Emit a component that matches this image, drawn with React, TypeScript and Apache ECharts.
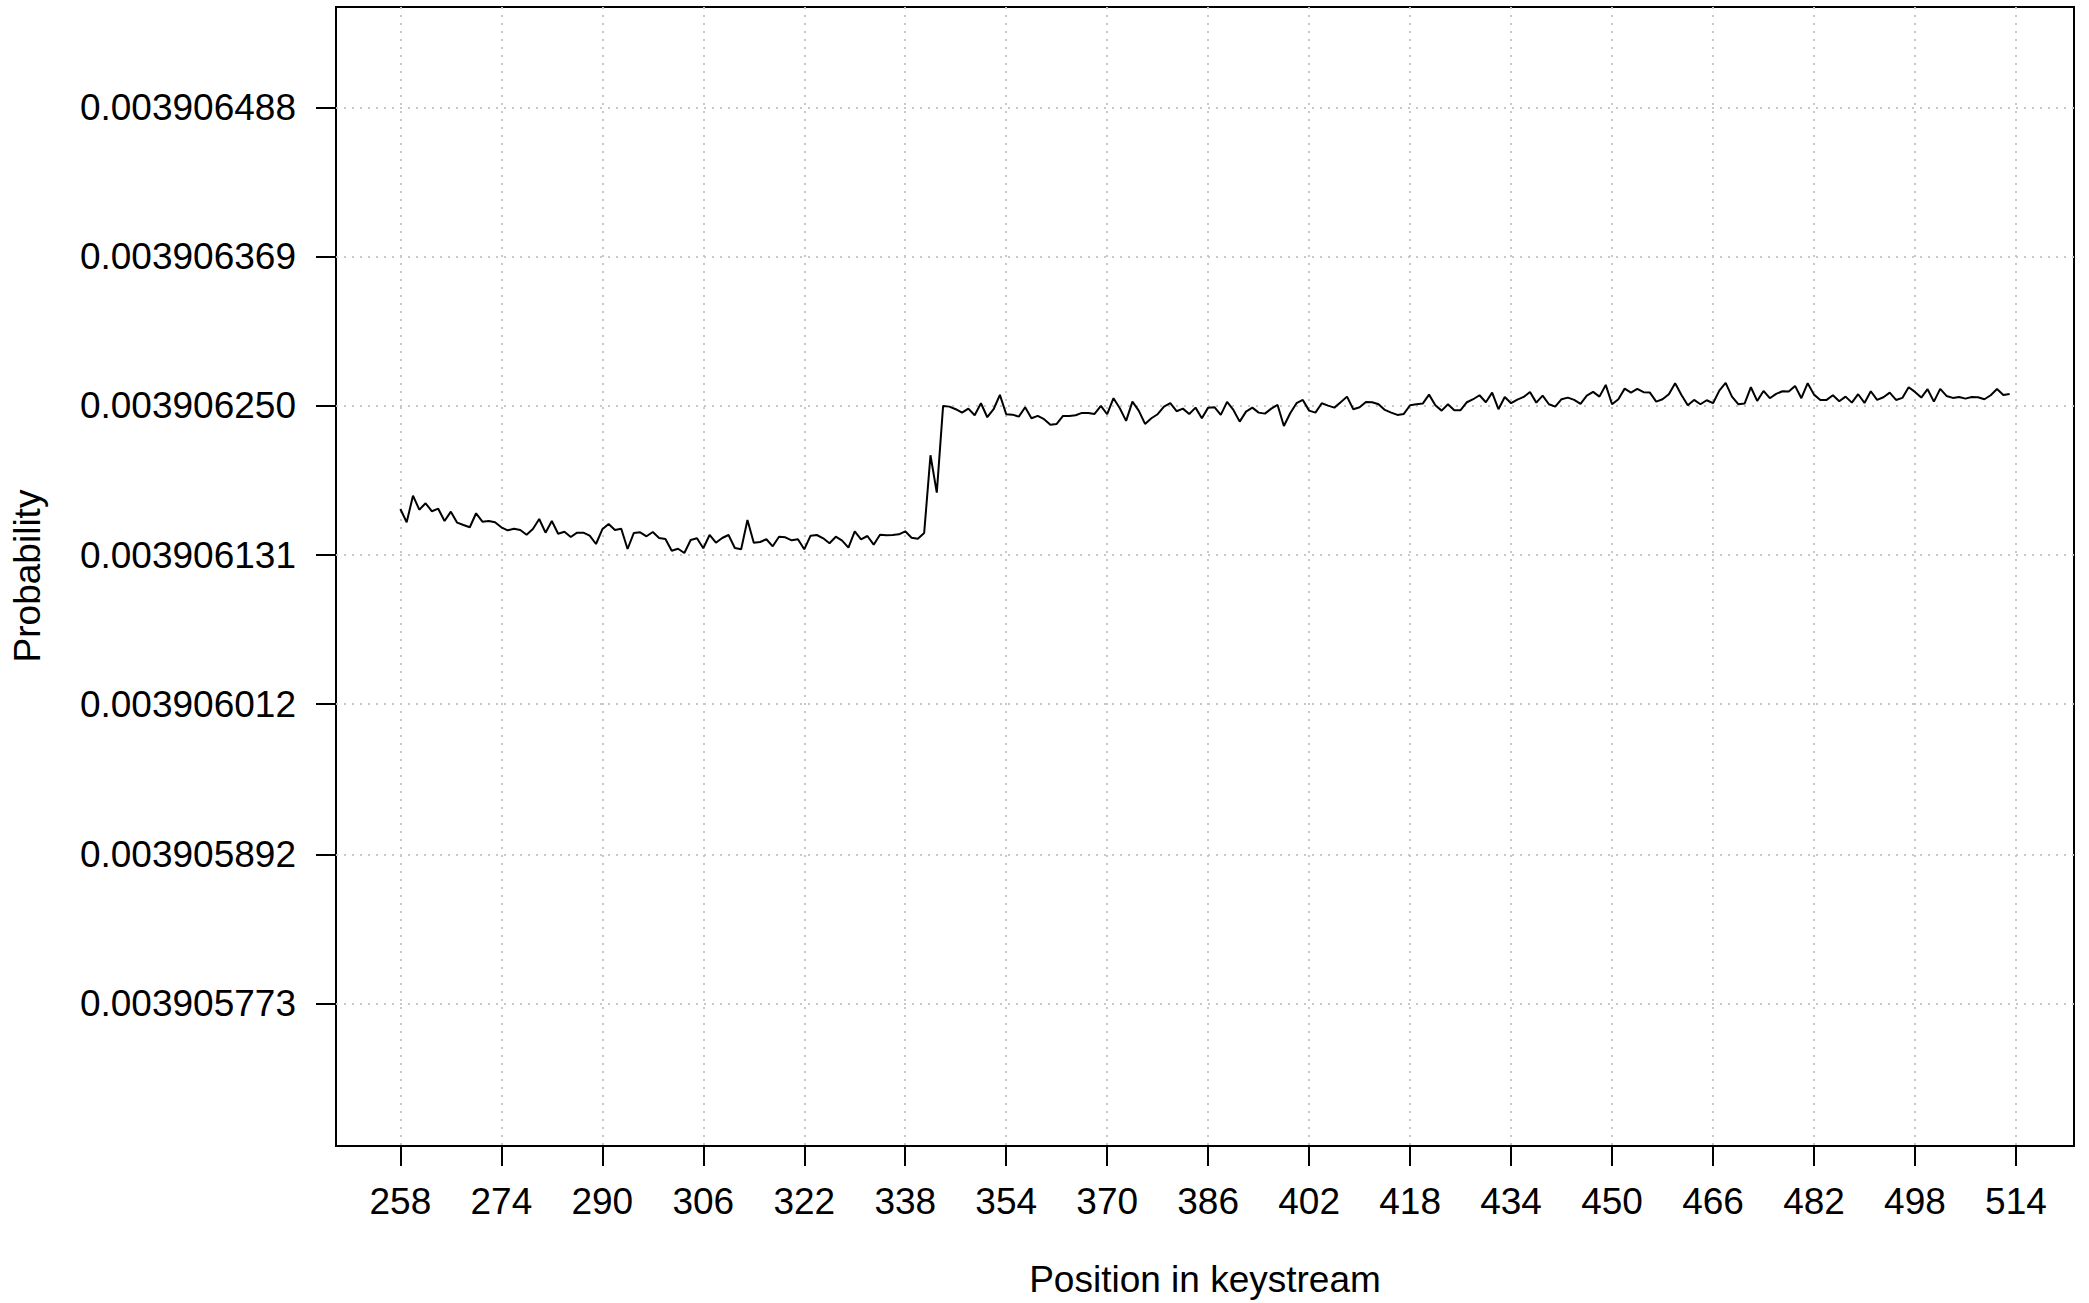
import React, { useEffect, useRef } from "react";
import * as echarts from "echarts";

// Position in keystream of the first value; one value per position.
const firstPosition = 258;

const probability = [
  0.00390616778, 0.00390615716, 0.00390617839, 0.00390616722, 0.00390617232, 0.00390616594, 0.00390616802, 0.0039061582, 0.00390616562, 0.00390615684,
  0.003906155, 0.00390615317, 0.00390616434, 0.00390615764, 0.0039061582, 0.00390615716, 0.00390615317, 0.00390615077, 0.00390615205, 0.00390615101,
  0.00390614726, 0.00390615181, 0.00390615979, 0.00390614886, 0.0039061582, 0.00390614806, 0.00390614965, 0.00390614542, 0.00390614886, 0.00390614886,
  0.00390614646, 0.00390613983, 0.00390615157, 0.0039061558, 0.00390615101, 0.00390615205, 0.00390613584, 0.00390614862, 0.00390614918, 0.00390614598,
  0.00390614941, 0.00390614462, 0.00390614383, 0.00390613449, 0.00390613608, 0.00390613265, 0.00390614303, 0.00390614438, 0.0039061364, 0.00390614702,
  0.00390614087, 0.00390614462, 0.00390614702, 0.00390613664, 0.0039061356, 0.00390615899, 0.00390614087, 0.00390614143, 0.00390614359, 0.003906138,
  0.00390614566, 0.00390614518, 0.00390614279, 0.00390614359, 0.0039061356, 0.00390614646, 0.00390614702, 0.00390614438, 0.00390614039, 0.00390614566,
  0.00390614247, 0.00390613688, 0.00390614997, 0.00390614359, 0.00390614622, 0.00390613928, 0.00390614726, 0.00390614678, 0.00390614702, 0.00390614758,
  0.00390614997, 0.00390614486, 0.00390614407, 0.00390614862, 0.00390621064, 0.00390618079, 0.00390625, 0.00390624944, 0.00390624737, 0.00390624465,
  0.00390624784, 0.00390624258, 0.00390625216, 0.00390624098, 0.00390624737, 0.00390625878, 0.00390624337, 0.00390624305, 0.00390624146, 0.00390624896,
  0.00390624018, 0.00390624202, 0.00390623938, 0.00390623507, 0.00390623563, 0.00390624202, 0.00390624202, 0.00390624258, 0.00390624441, 0.00390624441,
  0.00390624361, 0.00390625, 0.00390624337, 0.00390625615, 0.00390624816, 0.00390623803, 0.00390625343, 0.00390624625, 0.00390623563, 0.00390624018,
  0.00390624337, 0.00390624944, 0.00390625216, 0.00390624577, 0.00390624784, 0.00390624361, 0.00390624864, 0.00390624018, 0.00390624864, 0.00390624896,
  0.00390624282, 0.00390625319, 0.00390624681, 0.00390623747, 0.00390624545, 0.00390624864, 0.00390624465, 0.00390624385, 0.00390624784, 0.0039062508,
  0.00390623403, 0.00390624417, 0.00390625216, 0.00390625479, 0.00390624625, 0.00390624465, 0.00390625216, 0.00390625024, 0.00390624864, 0.00390625295,
  0.00390625742, 0.00390624737, 0.00390624896, 0.00390625319, 0.00390625295, 0.00390625136, 0.00390624681, 0.00390624465, 0.00390624282, 0.00390624361,
  0.00390625056, 0.00390625136, 0.00390625184, 0.00390625902, 0.00390625056, 0.00390624625, 0.00390625136, 0.00390624657, 0.00390624657, 0.00390625295,
  0.00390625535, 0.00390625854, 0.00390625295, 0.00390626062, 0.00390624737, 0.00390625718, 0.00390625216, 0.00390625503, 0.00390625718, 0.00390626118,
  0.00390625263, 0.00390625822, 0.00390625136, 0.00390624944, 0.00390625535, 0.00390625663, 0.00390625479, 0.0039062516, 0.00390625822, 0.00390626118,
  0.00390625742, 0.00390626676, 0.00390625136, 0.00390625535, 0.00390626381, 0.00390626062, 0.00390626357, 0.00390626094, 0.00390626062, 0.00390625343,
  0.00390625535, 0.00390625934, 0.00390626812, 0.00390625878, 0.00390625056, 0.00390625479, 0.00390625136, 0.00390625455, 0.00390625216, 0.00390626221,
  0.00390626836, 0.00390625742, 0.00390625136, 0.00390625184, 0.00390626493, 0.00390625399, 0.00390626197, 0.00390625615, 0.00390625958, 0.00390626174,
  0.00390626142, 0.00390626597, 0.00390625615, 0.00390626812, 0.00390625902, 0.00390625479, 0.00390625479, 0.00390625854, 0.00390625375, 0.00390625742,
  0.00390625263, 0.00390625934, 0.00390625239, 0.00390626174, 0.00390625479, 0.00390625695, 0.00390626062, 0.00390625479, 0.00390625639, 0.00390626493,
  0.00390626118, 0.00390625663, 0.00390626333, 0.00390625343, 0.00390626357, 0.00390625798, 0.00390625639, 0.00390625718, 0.00390625583, 0.00390625718,
  0.00390625695, 0.00390625535, 0.00390625854, 0.00390626357, 0.00390625878, 0.00390625958,
];

const xTickValues = [258, 274, 290, 306, 322, 338, 354, 370, 386, 402, 418, 434, 450, 466, 482, 498, 514];
const yTickLabels = [
  "0.003905773",
  "0.003905892",
  "0.003906012",
  "0.003906131",
  "0.003906250",
  "0.003906369",
  "0.003906488",
];

const xTitle = "Position in keystream";
const yTitle = "Probability";

const xMin = 247.8;
const xMax = 523.2;
const yMin = 0.0039056595;
const yMax = 0.0039065683;

const FONT = "'Liberation Sans', Arial, Helvetica, sans-serif";
const FONT_SIZE = 37;

export default function App() {
  const ref = useRef<HTMLDivElement>(null);

  useEffect(() => {
    document.body.style.margin = "0";
    if (!ref.current) return;
    const chart = echarts.init(ref.current, undefined, { renderer: "svg" });
    const seriesData = probability.map((p, i) => [firstPosition + i, p]);
    const yTickValues = yTickLabels.map(Number);

    const splitLine = {
      show: true,
      lineStyle: { color: "#c8c8c8", width: 2, type: [2, 6] as any },
    };

    chart.setOption({
      animation: false,
      backgroundColor: "#ffffff",
      grid: {
        left: 336,
        right: 15,
        top: 7,
        bottom: 157,
        show: true,
        borderColor: "#000000",
        borderWidth: 2,
        containLabel: false,
        outerBoundsMode: "none",
      },
      xAxis: {
        type: "value",
        min: xMin,
        max: xMax,
        axisLine: { show: false },
        axisTick: {
          show: true,
          customValues: xTickValues,
          length: 20,
          lineStyle: { color: "#000000", width: 2 },
        },
        axisLabel: {
          customValues: xTickValues,
          margin: 37,
          fontSize: FONT_SIZE,
          fontFamily: FONT,
          color: "#000000",
          formatter: (v: number) => String(Math.round(v)),
        },
        splitLine,
      },
      yAxis: {
        type: "value",
        min: yMin,
        max: yMax,
        axisLine: { show: false },
        axisTick: {
          show: true,
          customValues: yTickValues,
          length: 20,
          lineStyle: { color: "#000000", width: 2 },
        },
        axisLabel: {
          customValues: yTickValues,
          margin: 40,
          fontSize: FONT_SIZE,
          fontFamily: FONT,
          color: "#000000",
          formatter: (v: number) => v.toFixed(9),
        },
        splitLine,
      },
      graphic: [
        {
          type: "text",
          x: 1205,
          y: 1279,
          style: {
            text: xTitle,
            fontSize: FONT_SIZE,
            fontFamily: FONT,
            fill: "#000000",
            align: "center",
            verticalAlign: "middle",
          },
        },
        {
          type: "text",
          x: 27,
          y: 576,
          rotation: Math.PI / 2,
          style: {
            text: yTitle,
            fontSize: FONT_SIZE,
            fontFamily: FONT,
            fill: "#000000",
            align: "center",
            verticalAlign: "middle",
          },
        },
      ],
      series: [
        {
          type: "line",
          data: seriesData,
          showSymbol: false,
          symbol: "none",
          lineStyle: { color: "#000000", width: 2 },
          silent: true,
        },
      ],
    });

    return () => chart.dispose();
  }, []);

  return <div ref={ref} style={{ width: 2089, height: 1303 }} />;
}
